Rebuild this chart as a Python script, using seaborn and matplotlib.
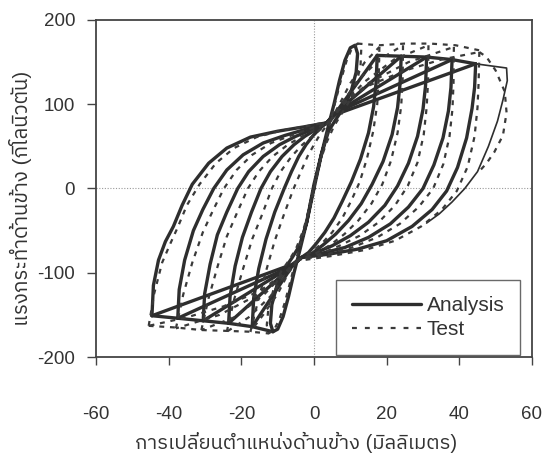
import matplotlib
matplotlib.use("Agg")
import matplotlib.pyplot as plt
import seaborn as sns
import pandas as pd
from matplotlib import font_manager
from matplotlib.ft2font import FT2Font
from matplotlib.lines import Line2D

# ---------------- text ----------------
x_label = "การเปลี่ยนตำแหน่งด้านข้าง (มิลลิเมตร)"
y_label = "แรงกระทำด้านข้าง (กิโลนิวตัน)"
legend_labels = ["Analysis", "Test"]
x_ticks = [-60, -40, -20, 0, 20, 40, 60]
y_ticks = [-200, -100, 0, 100, 200]

# ---------------- Analysis (solid) ----------------
# cycle 1 petal loop
ana_c1_x = [0, 2, 4, 5.5, 7, 8.5, 10, 11.3, 12, 11.6, 10.2, 8.2, 6, 4, 2, 0, -2, -4, -5.5, -7, -8.5, -10, -11.3, -12, -11.6, -10.2, -8.2, -6, -4, -2, 0]
ana_c1_y = [0, 40, 75, 100, 128, 152, 167, 170, 160, 138, 115, 96, 82, 68, 40, 5, -40, -75, -100, -128, -152, -167, -170, -160, -138, -115, -96, -82, -68, -40, 0]
# loading branches: negative peak -> upper pinch
ana_up2_x = [-17, -16.6, -15.2, -13.2, -10.8, -8.2, -6.2, -4.2, -2.2, -0.2, 1.8, 3.5]
ana_up2_y = [-164, -130, -95, -60, -28, 0, 20, 38, 52, 63, 72, 78]
ana_up3_x = [-23.5, -23.1, -21.7, -19.7, -17.2, -14.6, -12, -8.8, -5.5, -2.5, 0.5, 3.5]
ana_up3_y = [-160, -128, -92, -58, -28, 0, 20, 38, 52, 62, 70, 78]
ana_up4_x = [-30.5, -30.1, -28.6, -26.6, -24, -21, -18, -14, -9.5, -5, -0.5, 3.5]
ana_up4_y = [-157, -125, -90, -55, -28, 0, 20, 38, 52, 62, 70, 78]
ana_up5_x = [-37.5, -37.1, -35.6, -33.2, -30.6, -27.6, -24, -19.5, -14, -8, -2.5, 3.5]
ana_up5_y = [-154, -120, -85, -50, -25, 0, 22, 40, 54, 63, 70, 78]
ana_up6_x = [-44.6, -44.2, -42.8, -40.9, -38.7, -36.3, -33.5, -29, -24, -17.5, -10, -3, 3.5]
ana_up6_y = [-151, -115, -85, -63, -45, -20, 5, 30, 48, 61, 68, 73, 78]
# reloading lines: upper pinch -> positive peaks
ana_rl2_x = [3.5, 6, 17.4]
ana_rl2_y = [78, 90, 158]
ana_rl3_x = [3.5, 6, 24]
ana_rl3_y = [78, 90, 157]
ana_rl4_x = [3.5, 6, 31]
ana_rl4_y = [78, 90, 156]
ana_rl5_x = [3.5, 6, 38]
ana_rl5_y = [78, 90, 153]
ana_rl6_x = [3.5, 6, 44.5]
ana_rl6_y = [78, 88, 148]
ana_top_x = [17.4, 24, 31, 38, 44.5]
ana_top_y = [158, 157, 156, 153, 148]
# unloading branches: positive peak -> lower pinch
ana_dn2_x = [17.4, 17.1, 16.4, 15, 12.8, 10.3, 7.8, 5.5, 3, 0.5, -1.5, -3.5]
ana_dn2_y = [158, 126, 97, 66, 35, 8, -15, -35, -52, -66, -76, -82]
ana_dn3_x = [24, 23.7, 23, 21.5, 19, 16, 13, 9.5, 6, 2.5, -0.5, -3.5]
ana_dn3_y = [157, 125, 96, 64, 32, 5, -18, -38, -54, -67, -77, -82]
ana_dn4_x = [31, 30.7, 30, 28.5, 26, 23, 19.5, 15, 10, 5, 0, -3.5]
ana_dn4_y = [156, 122, 94, 62, 30, 3, -20, -40, -56, -68, -77, -82]
ana_dn5_x = [38, 37.7, 37, 35.5, 33, 30, 26, 21, 15, 8.5, 2, -3.5]
ana_dn5_y = [153, 120, 92, 60, 28, 0, -22, -42, -58, -70, -77, -82]
ana_dn6_x = [44.5, 44.2, 43.5, 42, 39.5, 36.5, 32.5, 27, 20, 12, 4, -3.5]
ana_dn6_y = [148, 120, 95, 60, 25, -3, -25, -45, -62, -72, -78, -82]
# reloading lines: lower pinch -> negative peaks
ana_rd2_x = [-3.5, -6, -17]
ana_rd2_y = [-82, -92, -164]
ana_rd3_x = [-3.5, -6, -23.5]
ana_rd3_y = [-82, -92, -160]
ana_rd4_x = [-3.5, -6, -30.5]
ana_rd4_y = [-82, -92, -157]
ana_rd5_x = [-3.5, -6, -37.5]
ana_rd5_y = [-82, -92, -154]
ana_rd6_x = [-3.5, -6, -44.6]
ana_rd6_y = [-82, -90, -151]
ana_bot_x = [-44.6, -37.5, -30.5, -23.5, -17, -11.3]
ana_bot_y = [-151, -154, -157, -160, -164, -170]
# final excursion (thin line)
ana_fin_x = [44.5, 53, 53.2, 52, 50.5, 48, 45, 41.5, 38, 34.5, 31]
ana_fin_y = [148, 143, 128, 105, 80, 50, 20, 0, -16, -30, -41]

# ---------------- Test (dashed) ----------------
tst_c1_x = [0, 2.5, 4.5, 6, 7.5, 9, 10.5, 12, 13, 12.8, 11.5, 9.5, 7.5, 5.5, 3.5, 1.5, -1, -3, -5, -6.5, -8, -9.5, -11, -12.5, -13, -12.5, -11, -9, -7, -5, -3, -1, 0]
tst_c1_y = [0, 45, 80, 105, 130, 152, 167, 172, 165, 145, 122, 102, 88, 74, 55, 30, -15, -55, -85, -110, -135, -155, -168, -172, -162, -140, -118, -98, -86, -72, -50, -20, 0]
tst_up2_x = [-17.5, -15.5, -13.2, -10.8, -8.2, -5.6, -3.6, -1.8, 0, 1.5, 3, 4.5]
tst_up2_y = [-170, -135, -98, -62, -30, 0, 20, 38, 52, 63, 72, 80]
tst_up3_x = [-24, -22, -19.5, -17, -14.2, -11.6, -9.2, -6.2, -3.2, -0.5, 2, 4.5]
tst_up3_y = [-170, -132, -95, -60, -30, 0, 20, 38, 52, 62, 71, 80]
tst_up4_x = [-31, -29, -26.5, -24, -21.2, -18.2, -15.2, -11.4, -7.2, -3.2, 0.8, 4.5]
tst_up4_y = [-168, -130, -92, -57, -29, 0, 20, 38, 52, 62, 71, 80]
tst_up5_x = [-38, -36, -33.5, -30.6, -27.8, -24.8, -21.3, -17, -11.8, -6.2, -1, 4.5]
tst_up5_y = [-166, -126, -88, -52, -26, 0, 22, 40, 54, 63, 71, 80]
tst_up6_x = [-45.5, -44, -41.8, -39.5, -37.5, -35, -31.5, -27, -22, -15.8, -8.8, -2, 4.5]
tst_up6_y = [-163, -125, -88, -65, -46, -20, 5, 30, 48, 61, 69, 74, 80]
tst_rl2_x = [4.5, 7, 10, 14, 18]
tst_rl2_y = [80, 100, 125, 150, 168]
tst_rl3_x = [4.5, 7.5, 12, 18, 24.5]
tst_rl3_y = [80, 100, 128, 153, 170]
tst_rl4_x = [4.5, 8, 14, 22, 31.5]
tst_rl4_y = [80, 100, 127, 153, 170]
tst_rl5_x = [4.5, 8, 15, 26, 38.5]
tst_rl5_y = [80, 100, 125, 150, 168]
tst_rl6_x = [4.5, 8, 15, 25, 35, 45.5]
tst_rl6_y = [80, 100, 122, 140, 153, 162]
tst_top_x = [12, 18, 25, 32, 39, 45.5]
tst_top_y = [172, 170, 172, 172, 170, 164]
tst_dn2_x = [18, 17.8, 17.4, 16.3, 14.6, 12.6, 10.2, 7.8, 5, 2, -1, -4.5]
tst_dn2_y = [168, 130, 100, 68, 36, 8, -15, -35, -52, -66, -76, -85]
tst_dn3_x = [24.5, 24.4, 24, 23, 21.2, 18.8, 15.8, 12.2, 8.4, 4.5, 0.5, -4.5]
tst_dn3_y = [170, 130, 98, 66, 33, 5, -18, -38, -54, -67, -77, -85]
tst_dn4_x = [31.5, 31.4, 31, 30.2, 28.5, 25.8, 22.3, 17.8, 12.6, 7, 1.5, -4.5]
tst_dn4_y = [170, 128, 96, 64, 31, 3, -20, -40, -56, -68, -78, -85]
tst_dn5_x = [38.5, 38.4, 38.1, 37.3, 35.6, 32.8, 28.8, 23.6, 17.4, 10.5, 3, -4.5]
tst_dn5_y = [168, 125, 94, 62, 29, 0, -22, -42, -58, -70, -79, -85]
tst_dn6_x = [45.5, 45.3, 45, 44.2, 42.3, 39.3, 35.2, 29.5, 22.3, 14, 5, -4.5]
tst_dn6_y = [162, 125, 96, 62, 26, -3, -25, -45, -62, -73, -80, -86]
tst_rd2_x = [-4.5, -7, -10, -14, -17.5]
tst_rd2_y = [-85, -100, -125, -150, -170]
tst_rd3_x = [-4.5, -7.5, -12, -18, -24]
tst_rd3_y = [-85, -100, -128, -153, -170]
tst_rd4_x = [-4.5, -8, -14, -22, -31]
tst_rd4_y = [-85, -100, -127, -153, -168]
tst_rd5_x = [-4.5, -8, -15, -26, -38]
tst_rd5_y = [-85, -100, -125, -150, -166]
tst_rd6_x = [-4.5, -8, -15, -25, -35, -45.5]
tst_rd6_y = [-85, -100, -122, -140, -153, -163]
tst_bot_x = [-45.5, -38, -31, -24, -17.5, -12.5]
tst_bot_y = [-163, -165, -168, -169, -170, -172]
tst_fin_x = [45.5, 47.5, 50, 52.5, 53, 52, 49.6, 47.5, 45]
tst_fin_y = [162, 156, 140, 115, 90, 63, 43, 30, 18]

# ---------------- fonts ----------------
thai_font = None
cands = []
for fe in font_manager.fontManager.ttflist:
    try:
        cmap = FT2Font(fe.fname).get_charmap()
    except Exception:
        continue
    if 0x0E01 in cmap and 0x0E33 in cmap and 0x0E48 in cmap:
        cands.append(fe.name)
if cands:
    pref = [c for c in cands if "Sans" in c] or cands
    thai_font = pref[0]

sns.set_theme(style="white")
families = ["Liberation Sans"] + ([thai_font] if thai_font else []) + ["DejaVu Sans"]
plt.rcParams["font.family"] = families

LINE = "#2e2e2e"
TEXT = "#333333"


def frame(segs):
    rows = []
    for i, (xs, ys) in enumerate(segs):
        for k, (xv, yv) in enumerate(zip(xs, ys)):
            rows.append({"x": xv, "y": yv, "seg": i, "order": k})
    return pd.DataFrame(rows)


ana_thick = frame([
    (ana_c1_x, ana_c1_y),
    (ana_up2_x, ana_up2_y), (ana_up3_x, ana_up3_y), (ana_up4_x, ana_up4_y),
    (ana_up5_x, ana_up5_y), (ana_up6_x, ana_up6_y),
    (ana_rl2_x, ana_rl2_y), (ana_rl3_x, ana_rl3_y), (ana_rl4_x, ana_rl4_y),
    (ana_rl5_x, ana_rl5_y), (ana_rl6_x, ana_rl6_y), (ana_top_x, ana_top_y),
    (ana_dn2_x, ana_dn2_y), (ana_dn3_x, ana_dn3_y), (ana_dn4_x, ana_dn4_y),
    (ana_dn5_x, ana_dn5_y), (ana_dn6_x, ana_dn6_y),
    (ana_rd2_x, ana_rd2_y), (ana_rd3_x, ana_rd3_y), (ana_rd4_x, ana_rd4_y),
    (ana_rd5_x, ana_rd5_y), (ana_rd6_x, ana_rd6_y), (ana_bot_x, ana_bot_y),
])
ana_thin = frame([(ana_fin_x, ana_fin_y)])
tst = frame([
    (tst_c1_x, tst_c1_y),
    (tst_up2_x, tst_up2_y), (tst_up3_x, tst_up3_y), (tst_up4_x, tst_up4_y),
    (tst_up5_x, tst_up5_y), (tst_up6_x, tst_up6_y),
    (tst_rl2_x, tst_rl2_y), (tst_rl3_x, tst_rl3_y), (tst_rl4_x, tst_rl4_y),
    (tst_rl5_x, tst_rl5_y), (tst_rl6_x, tst_rl6_y), (tst_top_x, tst_top_y),
    (tst_dn2_x, tst_dn2_y), (tst_dn3_x, tst_dn3_y), (tst_dn4_x, tst_dn4_y),
    (tst_dn5_x, tst_dn5_y), (tst_dn6_x, tst_dn6_y),
    (tst_rd2_x, tst_rd2_y), (tst_rd3_x, tst_rd3_y), (tst_rd4_x, tst_rd4_y),
    (tst_rd5_x, tst_rd5_y), (tst_rd6_x, tst_rd6_y), (tst_bot_x, tst_bot_y),
    (tst_fin_x, tst_fin_y),
])

fig = plt.figure(figsize=(5.46, 4.75), dpi=100)
ax = fig.add_axes([96 / 546, 1 - 357 / 475, 436 / 546, 337 / 475])

ax.axhline(0, color="#9a9a9a", lw=0.8, ls=(0, (1, 1.5)), zorder=0)
ax.axvline(0, color="#9a9a9a", lw=0.8, ls=(0, (1, 1.5)), zorder=0)

sns.lineplot(data=ana_thick, x="x", y="y", units="seg", estimator=None, sort=False,
             color=LINE, linewidth=2.4, legend=False, ax=ax)
sns.lineplot(data=ana_thin, x="x", y="y", units="seg", estimator=None, sort=False,
             color=LINE, linewidth=1.2, legend=False, ax=ax)
n_before = len(ax.lines)
sns.lineplot(data=tst, x="x", y="y", units="seg", estimator=None, sort=False,
             color="#3a3a3a", linewidth=1.6, legend=False, ax=ax)
for ln in ax.lines[n_before:]:
    ln.set_linestyle((0, (2.2, 2.6)))

ax.set_xlim(-60, 60)
ax.set_ylim(-200, 200)
ax.set_xticks(x_ticks)
ax.set_yticks(y_ticks)
ax.set_xticklabels([str(v) for v in x_ticks])
ax.set_yticklabels([str(v) for v in y_ticks])
ax.tick_params(axis="x", direction="out", length=6, width=1, color="#444444",
               labelsize=13.5, labelcolor=TEXT, pad=29, bottom=True)
ax.tick_params(axis="y", direction="out", length=6.5, width=1, color="#444444",
               labelsize=13.5, labelcolor=TEXT, pad=8.5, left=True)
for s in ax.spines.values():
    s.set_visible(True)
    s.set_color("#444444")
    s.set_linewidth(1.3)

ax.set_xlabel(x_label, fontsize=14.6, color=TEXT)
ax.xaxis.label.set_va("center")
ax.xaxis.set_label_coords(0.459, -0.254)
ax.set_ylabel(y_label, fontsize=14.8, color=TEXT)
ax.yaxis.label.set_va("center")
ax.yaxis.set_label_coords(-0.174, 0.47)

handles = [Line2D([], [], color=LINE, lw=2.4),
           Line2D([], [], color="#3a3a3a", lw=1.6, ls=(0, (2.2, 3.6)))]
leg = ax.legend(handles, legend_labels, loc="lower right", bbox_to_anchor=(0.978, 0.0),
                fontsize=15, frameon=True, fancybox=False, edgecolor="#444444",
                handlelength=3.3, handletextpad=0.3, borderpad=0.75, labelspacing=0.25,
                borderaxespad=0.1)
leg.get_frame().set_linewidth(1.0)
for t in leg.get_texts():
    t.set_color(TEXT)

fig.savefig("out.png", dpi=100)
